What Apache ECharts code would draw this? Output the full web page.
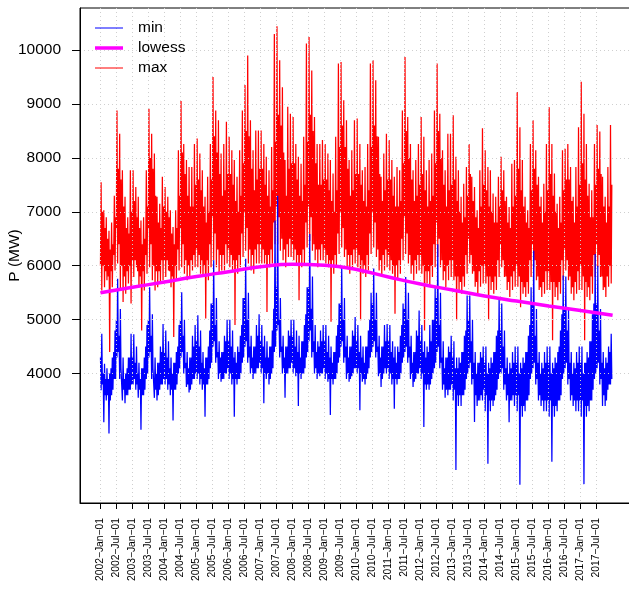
<!DOCTYPE html>
<html>
<head>
<meta charset="utf-8">
<script src="https://cdn.jsdelivr.net/npm/echarts@6/dist/echarts.min.js"></script>
<style>
  html, body { margin: 0; padding: 0; background: #ffffff; }
  #chart { width: 629px; height: 589px; }
</style>
</head>
<body>
<div id="chart"></div>
<script>
// Daily electricity load 2002-2017. For every month: the extreme values of the
// daily max and daily min series and the edges of their usual range, plus the
// lowess trend. One row per year, Jan..Dec.
const firstYear = 2002;
const dataStart = '2002-01-01';
const dataEnd = '2017-12-31';

// highest daily max in each month
const maxHigh = [
  7550, 7030, 6900, 6650, 6800, 7300, 8880, 8450, 7770, 7280, 6900, 7770, // 2002
  7770, 7460, 7280, 6840, 6900, 7770, 8910, 8450, 8080, 7280, 7150, 7650, // 2003
  7460, 7280, 7030, 6720, 7030, 8140, 9055, 8260, 7960, 7830, 7830, 8260, // 2004
  8360, 8080, 7770, 7280, 7650, 8260, 9500, 8880, 8700, 8080, 8260, 8670, // 2005
  8390, 8140, 7960, 7650, 8140, 8880, 9350, 9900, 8700, 8140, 8510, 8510, // 2006
  8510, 8260, 8020, 7770, 8200, 10300, 10440, 9810, 9310, 7960, 8950, 8820, // 2007
  8760, 8260, 8020, 7890, 8390, 10120, 10240, 9620, 8760, 8260, 8260, 8330, // 2008
  8260, 8080, 7960, 7710, 8390, 9750, 9780, 9070, 8700, 7960, 8140, 8700, // 2009
  8730, 8260, 7770, 7830, 8260, 9750, 9810, 9440, 8390, 7650, 8080, 8450, // 2010
  8330, 7960, 7650, 7830, 7770, 8880, 9870, 8760, 8260, 7770, 7960, 8260, // 2011
  8760, 8390, 7770, 7960, 8080, 8880, 9750, 8820, 8140, 7770, 8450, 8450, // 2012
  8790, 8020, 7770, 7280, 7520, 7830, 8260, 7650, 7460, 7030, 7770, 8550, // 2013
  8140, 7830, 7770, 7340, 7280, 7650, 8020, 7770, 7280, 7090, 7890, 7960, // 2014
  9220, 8570, 7960, 7280, 7030, 8260, 8700, 8140, 7650, 7280, 7520, 8260, // 2015
  8940, 8260, 7710, 7150, 7280, 8140, 8170, 8260, 7830, 7280, 7830, 8570, // 2016
  9410, 8820, 8260, 7520, 7400, 8260, 8610, 8490, 7650, 7280, 7830, 8610  // 2017
];

// usual upper level of the daily max in each month
const maxTypHigh = [
  7000, 6700, 6500, 6300, 6400, 6900, 7800, 7600, 7100, 6700, 6600, 7000, // 2002
  7200, 6900, 6700, 6400, 6500, 7100, 8000, 7800, 7300, 6800, 6700, 7100, // 2003
  7000, 6900, 6600, 6400, 6700, 7300, 8100, 7700, 7300, 7100, 7100, 7500, // 2004
  7600, 7400, 7100, 6800, 7000, 7600, 8400, 8100, 7700, 7300, 7400, 7700, // 2005
  7700, 7500, 7200, 7000, 7300, 7900, 8500, 8400, 7800, 7400, 7600, 7800, // 2006
  7800, 7500, 7300, 7100, 7400, 8300, 8800, 8600, 8100, 7300, 7800, 7900, // 2007
  7900, 7600, 7300, 7200, 7500, 8300, 8800, 8500, 7900, 7500, 7500, 7600, // 2008
  7600, 7400, 7200, 7000, 7400, 8200, 8600, 8200, 7800, 7300, 7400, 7700, // 2009
  7700, 7500, 7200, 7100, 7400, 8200, 8600, 8400, 7700, 7200, 7400, 7600, // 2010
  7600, 7300, 7100, 7100, 7200, 7900, 8500, 8000, 7600, 7200, 7300, 7500, // 2011
  7700, 7400, 7100, 7200, 7300, 7900, 8500, 8000, 7500, 7100, 7400, 7500, // 2012
  7600, 7200, 7000, 6800, 6900, 7300, 7700, 7200, 6900, 6700, 7100, 7500, // 2013
  7400, 7100, 7000, 6800, 6800, 7100, 7400, 7200, 6800, 6700, 7100, 7300, // 2014
  7800, 7400, 7100, 6800, 6700, 7400, 7800, 7500, 7100, 6800, 7000, 7400, // 2015
  7700, 7300, 7000, 6700, 6800, 7400, 7600, 7600, 7200, 6800, 7100, 7500, // 2016
  7900, 7600, 7300, 6900, 6900, 7500, 7800, 7700, 7100, 6800, 7100, 7500  // 2017
];

// usual lower level of the daily max in each month
const maxTypLow = [
  6000, 6000, 5900, 5800, 5900, 6200, 6700, 6400, 6000, 5800, 5900, 6000, // 2002
  6100, 6100, 5900, 5800, 5900, 6200, 6700, 6400, 6000, 5900, 5900, 6100, // 2003
  6100, 6100, 5900, 5800, 6000, 6300, 6700, 6400, 6100, 6000, 6100, 6200, // 2004
  6300, 6200, 6100, 6000, 6100, 6400, 6900, 6600, 6300, 6200, 6200, 6400, // 2005
  6300, 6200, 6100, 6100, 6200, 6600, 7000, 6700, 6300, 6200, 6300, 6400, // 2006
  6400, 6300, 6200, 6200, 6300, 6800, 7100, 6900, 6500, 6300, 6400, 6500, // 2007
  6400, 6300, 6200, 6200, 6300, 6800, 7100, 6900, 6400, 6300, 6300, 6400, // 2008
  6300, 6200, 6100, 6100, 6200, 6600, 7000, 6700, 6300, 6200, 6200, 6300, // 2009
  6300, 6200, 6100, 6000, 6200, 6600, 7000, 6800, 6300, 6100, 6200, 6300, // 2010
  6200, 6100, 6000, 6000, 6100, 6500, 6900, 6600, 6200, 6000, 6100, 6200, // 2011
  6200, 6000, 5900, 5900, 6000, 6400, 6800, 6500, 6100, 5900, 6000, 6100, // 2012
  6100, 5800, 5800, 5700, 5800, 6200, 6500, 6200, 5900, 5700, 5900, 6000, // 2013
  6000, 5800, 5800, 5700, 5800, 6100, 6400, 6100, 5800, 5700, 5800, 5900, // 2014
  6000, 5800, 5700, 5600, 5700, 6100, 6400, 6100, 5800, 5600, 5700, 5900, // 2015
  5900, 5700, 5700, 5600, 5700, 6100, 6300, 6100, 5800, 5600, 5700, 5900, // 2016
  6000, 5800, 5700, 5600, 5800, 6200, 6400, 6200, 5800, 5600, 5800, 6000  // 2017
];

// lowest daily max in each month
const maxLow = [
  5540, 5600, 5730, 4400, 5600, 5910, 6040, 5540, 5330, 5480, 5670, 5300, // 2002
  5790, 5970, 5600, 4800, 5540, 5850, 5970, 5730, 5540, 5600, 5670, 5730, // 2003
  5790, 5910, 5600, 4680, 5730, 5910, 5970, 5850, 5730, 5790, 5910, 5970, // 2004
  5970, 5850, 5790, 5020, 5730, 5970, 6100, 5970, 5850, 5910, 5910, 6040, // 2005
  5970, 5910, 4900, 5850, 5970, 6160, 6280, 6040, 5910, 5850, 6040, 6040, // 2006
  6040, 6040, 5140, 5970, 6040, 6400, 6400, 6280, 6100, 5970, 6160, 6160, // 2007
  6100, 6040, 5360, 5970, 6040, 6340, 6460, 6280, 6100, 5970, 6100, 6100, // 2008
  6040, 5970, 4960, 5850, 5970, 6220, 6340, 6160, 5970, 5850, 5970, 6040, // 2009
  5970, 4990, 5850, 5790, 5910, 6220, 6340, 6160, 5910, 5790, 5910, 5970, // 2010
  5910, 5850, 5110, 5730, 5850, 6100, 6220, 6040, 5850, 5730, 5850, 5910, // 2011
  5850, 4800, 5670, 5610, 5790, 5970, 6160, 5970, 5730, 5600, 5730, 5790, // 2012
  5730, 4990, 5550, 5480, 5610, 5850, 6040, 5850, 5610, 5480, 5610, 5670, // 2013
  5670, 4990, 5550, 5480, 5550, 5790, 5970, 5790, 5550, 5420, 5550, 5610, // 2014
  5610, 5230, 5480, 5420, 5480, 5790, 5970, 5730, 5550, 5420, 5480, 5550, // 2015
  5550, 4620, 5420, 5360, 5480, 5730, 5910, 5730, 5480, 5360, 5480, 5550, // 2016
  5550, 4620, 5420, 5360, 5480, 5790, 5970, 5790, 5550, 5420, 5610, 5670  // 2017
];

// highest daily min in each month
const minHigh = [
  4740, 4180, 4100, 4000, 4300, 4800, 5760, 5200, 4300, 4000, 4300, 4740, // 2002
  4730, 4500, 4200, 4100, 4300, 4900, 5600, 5100, 4300, 4200, 4500, 4920, // 2003
  4800, 4600, 4300, 4200, 4400, 4900, 5510, 5000, 4400, 4300, 4700, 4900, // 2004
  5080, 4800, 4400, 4300, 4500, 5300, 6100, 5400, 4600, 4400, 4700, 5000, // 2005
  5000, 4800, 4400, 4500, 4700, 5400, 6130, 5500, 4700, 4500, 4900, 5100, // 2006
  4900, 4700, 4600, 4500, 4800, 6840, 7300, 5400, 4700, 4500, 4800, 5000, // 2007
  5000, 4800, 4700, 4600, 4900, 5600, 6590, 5800, 4900, 4600, 4800, 4900, // 2008
  4900, 4700, 4500, 4400, 4700, 5300, 6000, 5400, 4700, 4500, 4800, 5050, // 2009
  4900, 4700, 4500, 4500, 4800, 5500, 5950, 5500, 4700, 4500, 4900, 4920, // 2010
  4900, 4600, 4500, 4500, 4700, 5300, 5790, 5500, 4700, 4400, 4800, 5170, // 2011
  4900, 4600, 4500, 4900, 5000, 5600, 6400, 5500, 4600, 4300, 4500, 4700, // 2012
  4600, 4300, 4300, 4400, 4700, 5450, 5450, 5000, 4400, 4200, 4400, 4500, // 2013
  4500, 4200, 4300, 4400, 4700, 5420, 5300, 4800, 4300, 4200, 4400, 4500, // 2014
  4500, 4200, 4300, 4400, 4700, 5600, 6280, 5200, 4400, 4200, 4400, 4500, // 2015
  4500, 4200, 4300, 4400, 4800, 5820, 5800, 5200, 4400, 4200, 4400, 4500, // 2016
  4500, 4200, 4400, 4600, 5100, 6220, 6000, 5200, 4400, 4300, 4500, 4740  // 2017
];

// usual upper level of the daily min in each month
const minTypHigh = [
  4300, 4000, 3900, 3900, 4100, 4400, 5000, 4700, 4100, 3900, 4100, 4300, // 2002
  4300, 4200, 4000, 3900, 4100, 4500, 5000, 4700, 4100, 4000, 4200, 4400, // 2003
  4400, 4300, 4100, 4000, 4200, 4500, 5000, 4700, 4200, 4100, 4300, 4500, // 2004
  4600, 4500, 4200, 4100, 4300, 4800, 5300, 4900, 4400, 4300, 4400, 4600, // 2005
  4600, 4500, 4300, 4200, 4400, 4900, 5400, 5000, 4500, 4300, 4500, 4700, // 2006
  4600, 4500, 4300, 4300, 4500, 5200, 5600, 5000, 4500, 4300, 4500, 4700, // 2007
  4700, 4500, 4400, 4300, 4600, 5100, 5600, 5200, 4600, 4400, 4500, 4600, // 2008
  4600, 4400, 4300, 4200, 4400, 4900, 5300, 5000, 4500, 4300, 4500, 4700, // 2009
  4600, 4400, 4300, 4200, 4500, 5000, 5300, 5000, 4500, 4300, 4500, 4600, // 2010
  4600, 4400, 4300, 4200, 4400, 4900, 5200, 5000, 4500, 4200, 4400, 4700, // 2011
  4600, 4400, 4300, 4400, 4600, 5000, 5400, 4900, 4300, 4100, 4300, 4400, // 2012
  4300, 4100, 4100, 4200, 4400, 4800, 5000, 4600, 4200, 4000, 4200, 4300, // 2013
  4200, 4000, 4100, 4200, 4400, 4800, 4800, 4500, 4100, 4000, 4100, 4200, // 2014
  4200, 4000, 4100, 4200, 4400, 4900, 5300, 4700, 4200, 4000, 4100, 4200, // 2015
  4200, 4000, 4100, 4200, 4500, 5100, 5200, 4800, 4200, 4000, 4100, 4200, // 2016
  4200, 4000, 4200, 4300, 4600, 5300, 5300, 4800, 4200, 4100, 4200, 4400  // 2017
];

// usual lower level of the daily min in each month
const minTypLow = [
  3800, 3600, 3600, 3500, 3700, 3900, 4400, 4100, 3700, 3600, 3700, 3800, // 2002
  3900, 3800, 3700, 3600, 3700, 4000, 4400, 4100, 3700, 3600, 3800, 3900, // 2003
  3900, 3800, 3700, 3700, 3800, 4100, 4400, 4100, 3800, 3700, 3900, 4000, // 2004
  4000, 3900, 3800, 3800, 3900, 4200, 4600, 4300, 4000, 3900, 4000, 4100, // 2005
  4000, 3900, 3900, 3900, 4000, 4300, 4600, 4300, 4100, 4000, 4100, 4200, // 2006
  4100, 4000, 4000, 3900, 4100, 4500, 4900, 4400, 4100, 4000, 4100, 4200, // 2007
  4100, 4000, 4000, 4000, 4100, 4400, 4800, 4400, 4100, 4000, 4000, 4100, // 2008
  4000, 3900, 3900, 3900, 4000, 4300, 4600, 4300, 4000, 3900, 4000, 4100, // 2009
  4100, 4000, 3900, 3900, 4100, 4400, 4600, 4400, 4000, 3900, 4100, 4100, // 2010
  4000, 3900, 3900, 3900, 4000, 4300, 4500, 4300, 4000, 3850, 4000, 4100, // 2011
  4000, 3800, 3800, 3800, 4000, 4200, 4500, 4200, 3800, 3700, 3700, 3800, // 2012
  3700, 3600, 3600, 3600, 3700, 4000, 4200, 3900, 3600, 3500, 3600, 3700, // 2013
  3600, 3500, 3500, 3500, 3700, 4000, 4100, 3800, 3600, 3500, 3600, 3600, // 2014
  3600, 3400, 3400, 3500, 3600, 4000, 4200, 3900, 3600, 3500, 3500, 3500, // 2015
  3500, 3400, 3400, 3500, 3600, 4000, 4200, 3900, 3600, 3500, 3500, 3500, // 2016
  3500, 3400, 3400, 3500, 3700, 4000, 4200, 3900, 3600, 3500, 3800, 3900  // 2017
];

// lowest daily min in each month
const minLow = [
  3690, 3100, 3500, 2890, 3600, 3900, 4300, 3900, 3500, 3450, 3600, 3700, // 2002
  3800, 3700, 3550, 2960, 3600, 3900, 4300, 3900, 3550, 3500, 3700, 3800, // 2003
  3800, 3700, 3600, 3130, 3700, 4000, 4300, 4000, 3750, 3650, 3800, 3900, // 2004
  3900, 3800, 3700, 3200, 3800, 4100, 4500, 4200, 3900, 3850, 3900, 4000, // 2005
  3900, 3800, 3200, 3800, 3900, 4200, 4500, 4200, 4000, 3900, 4000, 4100, // 2006
  4000, 3450, 3900, 3800, 4000, 4400, 4800, 4300, 4000, 3550, 4000, 4100, // 2007
  4000, 3950, 3400, 3900, 4000, 4300, 4600, 4300, 4000, 3900, 3950, 4000, // 2008
  3900, 3850, 3230, 3800, 3900, 4200, 4500, 4200, 3900, 3850, 3950, 4100, // 2009
  4000, 3320, 3850, 3800, 4000, 4300, 4500, 4300, 3950, 3750, 4000, 4000, // 2010
  3900, 3800, 3350, 3800, 3900, 4200, 4400, 4200, 3900, 3750, 3900, 4000, // 2011
  3900, 3010, 3700, 3700, 3900, 4100, 4400, 4100, 3700, 3550, 3600, 3700, // 2012
  3500, 2210, 3400, 3400, 3600, 3900, 4100, 3800, 3100, 3400, 3500, 3500, // 2013
  3300, 2330, 3300, 3400, 3600, 3900, 4000, 3700, 3500, 3100, 3500, 3400, // 2014
  3300, 1940, 3200, 3300, 3500, 3900, 4100, 3800, 3500, 3400, 3300, 3300, // 2015
  3200, 2365, 3200, 3300, 3500, 3900, 4100, 3800, 3500, 3400, 3300, 3300, // 2016
  3200, 1950, 3200, 3300, 3500, 3900, 4100, 3800, 3400, 3400, 3700, 3800  // 2017
];

// lowess trend, sampled on Jan 1 of 2002 .. 2018
const lowessYears = [2002, 2003, 2004, 2005, 2006, 2007, 2008, 2009, 2010,
                     2011, 2012, 2013, 2014, 2015, 2016, 2017, 2018];
const lowessValues = [5500, 5600, 5700, 5800, 5890, 5980, 6030, 6010, 5930,
                      5790, 5660, 5550, 5440, 5345, 5255, 5170, 5080];

// y tick labels and x tick months (Jan, Jul)
const yTickValues = [4000, 5000, 6000, 7000, 8000, 9000, 10000];
const tickYears = [2002, 2003, 2004, 2005, 2006, 2007, 2008, 2009,
                   2010, 2011, 2012, 2013, 2014, 2015, 2016, 2017];
const tickMonths = [0, 6];
const monthNames = ['Jan', 'Feb', 'Mar', 'Apr', 'May', 'Jun',
                    'Jul', 'Aug', 'Sep', 'Oct', 'Nov', 'Dec'];

const FONT = '"Liberation Sans", Arial, Helvetica, sans-serif';

function monthDate(i, day) {
  return Date.UTC(firstYear + Math.floor(i / 12), i % 12, day);
}

// four values per month, visited in the given order on days 1, 8, 16 and 23
function monthSweep(lists) {
  const days = [1, 8, 16, 23];
  const out = [];
  for (let i = 0; i < lists[0].length; i++) {
    lists.forEach((list, k) => out.push([monthDate(i, days[k]), list[i]]));
  }
  return out;
}

const maxData = monthSweep([maxTypLow, maxHigh, maxLow, maxTypHigh]);
const minData = monthSweep([minTypHigh, minLow, minHigh, minTypLow]);
const lowessData = lowessYears.map((y, i) => [Date.UTC(y, 0, 1), lowessValues[i]]);

const tickDates = [];
tickYears.forEach(y => tickMonths.forEach(m => tickDates.push(Date.UTC(y, m, 1))));

// axis limits: data range padded by 4% on each side
const t0 = Date.parse(dataStart + 'T00:00:00Z');
const t1 = Date.parse(dataEnd + 'T00:00:00Z');
const xPad = 0.04 * (t1 - t0);
const allValues = maxHigh.concat(maxLow, minHigh, minLow);
const vMin = Math.min.apply(null, allValues);
const vMax = Math.max.apply(null, allValues);
const yPad = 0.04 * (vMax - vMin);

function fmtDate(v) {
  const d = new Date(v);
  const dd = String(d.getUTCDate()).padStart(2, '0');
  return d.getUTCFullYear() + '\u2212' + monthNames[d.getUTCMonth()] + '\u2212' + dd;
}

// legend keys: a horizontal bar inside a 28x14 box
const thinKey = 'path://M0,0L0.01,0L0,0ZM0,6.5L28,6.5L28,7.5L0,7.5ZM27.99,14L28,14L27.99,14Z';
const thickKey = 'path://M0,0L0.01,0L0,0ZM0,5.25L28,5.25L28,8.75L0,8.75ZM27.99,14L28,14L27.99,14Z';

const gridLine = { show: true, lineStyle: { color: '#cfcfcf', width: 1, type: [1, 3] } };

const chart = echarts.init(document.getElementById('chart'), null, { renderer: 'canvas' });
chart.setOption({
  animation: false,
  backgroundColor: '#ffffff',
  textStyle: { fontFamily: FONT },
  grid: {
    left: 80, right: -4, top: 8, bottom: 86,
    containLabel: false,
    outerBoundsMode: 'none',
    show: true, borderColor: '#000000', borderWidth: 1, backgroundColor: 'transparent'
  },
  legend: {
    orient: 'vertical',
    left: 95, top: 20,
    padding: 0,
    itemWidth: 28, itemHeight: 14, itemGap: 4,
    textStyle: { fontFamily: FONT, fontSize: 15.5, lineHeight: 14, color: '#000', padding: [0, 0, 0, 10] },
    data: [
      { name: 'min', icon: thinKey },
      { name: 'lowess', icon: thickKey },
      { name: 'max', icon: thinKey }
    ]
  },
  xAxis: {
    type: 'value',
    z: 4,
    min: t0 - xPad,
    max: t1 + xPad,
    axisLine: { show: true, lineStyle: { color: '#000', width: 1 } },
    axisTick: { show: true, length: 6, customValues: tickDates, lineStyle: { color: '#000' } },
    axisLabel: {
      customValues: tickDates,
      rotate: 90,
      margin: 15,
      fontSize: 10.3,
      fontFamily: FONT,
      color: '#000',
      hideOverlap: false,
      formatter: fmtDate
    },
    splitLine: gridLine
  },
  yAxis: {
    type: 'value',
    z: 4,
    min: vMin - yPad,
    max: vMax + yPad,
    name: 'P (MW)',
    nameLocation: 'middle',
    nameGap: 57,
    nameMoveOverlap: false,
    nameTextStyle: { fontFamily: FONT, fontSize: 15.5, color: '#000' },
    axisLine: { show: true, lineStyle: { color: '#000', width: 1 } },
    axisTick: { show: true, length: 8, customValues: yTickValues, lineStyle: { color: '#000' } },
    axisLabel: {
      customValues: yTickValues,
      margin: 19,
      fontSize: 15.5,
      fontFamily: FONT,
      color: '#000',
      formatter: v => String(v)
    },
    splitLine: gridLine
  },
  series: [
    {
      name: 'max', type: 'line', data: maxData, z: 2,
      symbol: 'none', showSymbol: false,
      lineStyle: { color: '#ff0000', width: 1.25 }, itemStyle: { color: '#ff0000' }
    },
    {
      name: 'min', type: 'line', data: minData, z: 3,
      symbol: 'none', showSymbol: false,
      lineStyle: { color: '#0000ff', width: 1.25 }, itemStyle: { color: '#0000ff' }
    },
    {
      name: 'lowess', type: 'line', data: lowessData, z: 6, smooth: true,
      symbol: 'none', showSymbol: false,
      lineStyle: { color: '#ff00ff', width: 3.5 }, itemStyle: { color: '#ff00ff' }
    }
  ]
});
</script>
</body>
</html>
